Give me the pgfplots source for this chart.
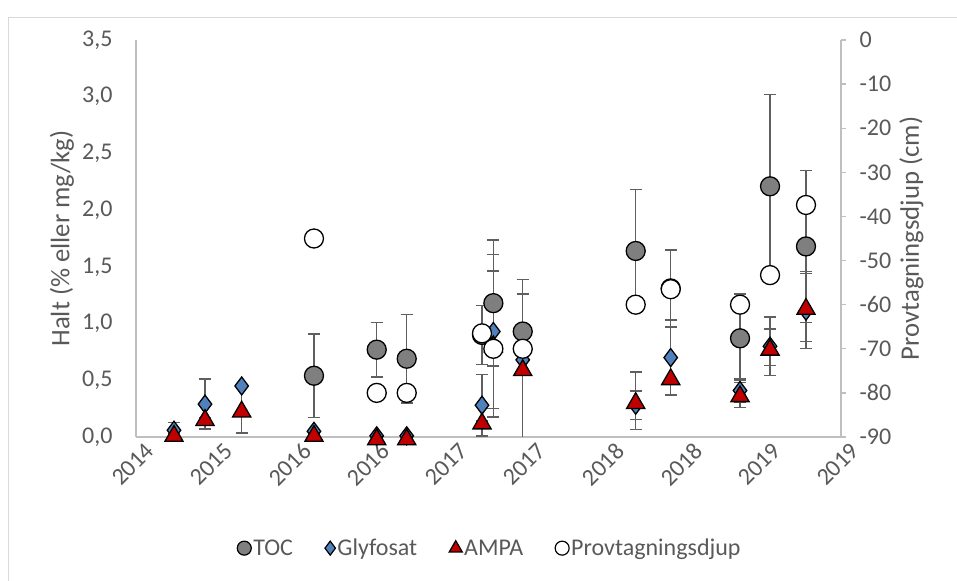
\documentclass[border=0pt]{standalone}
\usepackage{pgfplots}
\pgfplotsset{compat=1.18}
\usepackage{pgfplotstable}
\usepackage{fontspec}
\setmainfont{Carlito}
\definecolor{txt}{HTML}{595959}
\definecolor{axc}{HTML}{BFBFBF}
\definecolor{tocc}{HTML}{7F7F7F}
\definecolor{glyc}{HTML}{4F81BD}
\definecolor{ampac}{HTML}{C00000}
\definecolor{errc}{HTML}{5F5F5F}

\pgfplotstableread{
x y e
2.272 0.54 0.37
3.073 0.77 0.24
3.456 0.69 0.39
4.417 0.90 0.26
4.562 1.18 0.555
4.937 0.93 0.0
6.379 1.64 0.54
6.826 1.31 0.34
7.711 0.87 0.39
8.094 2.21 0.81
8.553 1.68 0.67
}\toc

\pgfplotstableread{
x y e
0.485 0.06 0.066
0.881 0.29 0.22
1.349 0.45 0.0
2.272 0.05 0.0
3.073 0.01 0.0
3.456 0.01 0.0
4.417 0.28 0.27
4.562 0.93 0.68
4.937 0.68 0.71
6.379 0.28 0.125
6.826 0.70 0.33
7.711 0.41 0.10
8.094 0.80 0.26
8.553 1.11 0.33
}\gly

\pgfplotstableread{
x y e
0.485 0.03 0.0
0.881 0.17 0.0
1.349 0.245 0.21
2.272 0.03 0.0
3.073 0.0 0.0
3.456 0.0 0.0
4.417 0.14 0.0
4.562 0.82 0.645
4.937 0.61 0.65
6.379 0.32 0.254
6.826 0.53 0.16
7.711 0.38 0.12
8.094 0.79 0.16
8.553 1.15 0.31
}\ampa

\pgfplotstableread{
x y
2.272 -45
3.073 -80
3.456 -80
4.417 -66.5
4.562 -70
4.937 -70
6.379 -60
6.826 -56.5
7.711 -60
8.094 -53.3
8.553 -37.4
}\prov

\pgfplotsset{
  errstyle/.style={forget plot, only marks, mark=none,
    error bars/.cd, y dir=both, y explicit,
    error bar style={draw=errc, line width=1.5bp},
    error mark options={rotate=90, mark size=6bp, draw=errc, line width=1.5bp}},
  tocmark/.style={only marks, mark=*, mark size=9.5bp, mark options={fill=tocc, draw=black, line width=1.3bp}},
  glymark/.style={only marks, mark=diamond*, mark size=9bp, mark options={fill=glyc, draw=black, line width=1.3bp}},
  ampamark/.style={only marks, mark=triangle*, mark size=10.5bp, mark options={fill=ampac, draw=black, line width=1.3bp, yshift=-2.5bp}},
  provmark/.style={only marks, mark=*, mark size=9.5bp, mark options={fill=white, draw=black, line width=1.3bp}},
}

\begin{document}
\begin{tikzpicture}
\useasboundingbox (0,0) rectangle (957bp,581bp);
\draw[color=axc!60!white, line width=1bp] (8bp,0) -- (8bp,563bp) -- (957bp,563bp);
\begin{axis}[
  at={(136bp,144bp)}, anchor=south west,
  scale only axis, width=705bp, height=397bp,
  xmin=0, xmax=9, ymin=0, ymax=3.5,
  xtick={0,1,2,3,4,5,6,7,8,9},
  xticklabels={2014,2015,2016,2016,2017,2017,2018,2018,2019,2019},
  ytick={0,0.5,1,1.5,2,2.5,3,3.5},
  axis x line*=bottom, axis y line*=left,
  axis line style={draw=axc, line width=1.3bp, -},
  major tick length=0pt,
  tick label style={font=\fontsize{24bp}{28bp}\selectfont, text=txt},
  xticklabel style={rotate=45, anchor=north east, inner sep=0pt, yshift=-9bp, xshift=3bp},
  yticklabel style={xshift=-20bp, /pgf/number format/fixed, /pgf/number format/fixed zerofill, /pgf/number format/precision=1, /pgf/number format/use comma},
  /pgf/number format/assume math mode=true,
  ylabel={Halt (\% eller mg/kg)},
  ylabel style={font=\fontsize{26.7bp}{30bp}\selectfont, text=txt, at={(axis description cs:-0.105,0.5)}, anchor=center},
]
\addplot[errstyle] table[x=x, y=y, y error=e] {\toc};
\addplot[errstyle] table[x=x, y=y, y error=e] {\gly};
\addplot[errstyle] table[x=x, y=y, y error=e] {\ampa};
\addplot[tocmark] table[x=x, y=y] {\toc};
\addplot[glymark] table[x=x, y=y] {\gly};
\addplot[ampamark] table[x=x, y=y] {\ampa};
\end{axis}
\begin{axis}[
  at={(136bp,144bp)}, anchor=south west,
  scale only axis, width=705bp, height=397bp,
  xmin=0, xmax=9, ymin=-90, ymax=0,
  axis x line=none, axis y line*=right,
  ytick={-90,-80,-70,-60,-50,-40,-30,-20,-10,0},
  axis line style={draw=axc, line width=1.3bp, -},
  ytick style={draw=axc, line width=1.3bp},
  major tick length=5bp, tick align=outside,
  tick label style={font=\fontsize{24bp}{28bp}\selectfont, text=txt},
  yticklabel style={xshift=10bp},
  /pgf/number format/assume math mode=true,
  ylabel={Provtagningsdjup (cm)},
  ylabel style={font=\fontsize{26.7bp}{30bp}\selectfont, text=txt, at={(axis description cs:1.10,0.5)}, anchor=center},
  legend columns=4,
  legend style={at={(axis description cs:0.502,-0.28)}, anchor=center, draw=none, fill=none,
    font=\fontsize{24bp}{28bp}\selectfont, text=txt,
    /tikz/every even column/.append style={column sep=30bp}},
  legend image code/.code={\draw[#1] plot coordinates {(0bp,0bp)};},
]
\addlegendimage{only marks, mark=*, mark size=7bp, mark options={fill=tocc, draw=black, line width=1.2bp}}
\addlegendentry{TOC}
\addlegendimage{only marks, mark=diamond*, mark size=7bp, mark options={fill=glyc, draw=black, line width=1.2bp}}
\addlegendentry{Glyfosat}
\addlegendimage{only marks, mark=triangle*, mark size=7.5bp, mark options={fill=ampac, draw=black, line width=1.2bp}}
\addlegendentry{AMPA}
\addlegendimage{only marks, mark=*, mark size=7bp, mark options={fill=white, draw=black, line width=1.2bp}}
\addlegendentry{Provtagningsdjup}
\addplot[provmark, forget plot] table[x=x, y=y] {\prov};
\end{axis}
\end{tikzpicture}
\end{document}
